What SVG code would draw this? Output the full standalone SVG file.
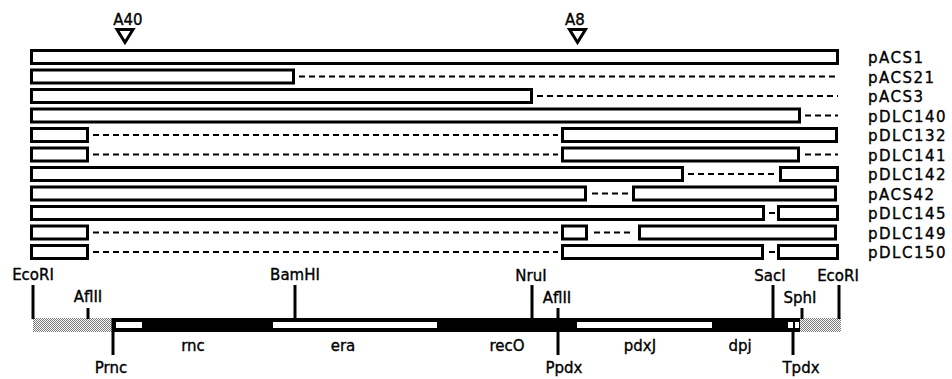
<svg xmlns="http://www.w3.org/2000/svg" width="952" height="379" viewBox="0 0 952 379">
<defs>
<style>
.bar{fill:#fff;stroke:#000;stroke-width:3}
.dash{stroke:#000;stroke-width:2;stroke-dasharray:6 4;fill:none}
.tick{stroke:#000;stroke-width:3;fill:none}
.tri{fill:#fff;stroke:#000;stroke-width:3;stroke-linejoin:miter}
text{font-family:"DejaVu Sans","Liberation Sans",sans-serif;font-size:15px;fill:#000;stroke:#000;stroke-width:0.35}
.lbl{letter-spacing:1.5px}
.mid{text-anchor:middle}
.ins{fill:#fff}
</style>
<pattern id="stip" width="2" height="2" patternUnits="userSpaceOnUse">
<rect width="2" height="2" fill="#fff"/>
<rect x="0" y="0" width="1" height="1" fill="#777"/>
<rect x="1" y="1" width="1" height="1" fill="#777"/>
</pattern>
</defs>
<rect width="952" height="379" fill="#fff"/>

<g id="insertions">
<text class="mid" x="128" y="25">A40</text>
<polygon class="tri" points="117,29.5 133,29.5 125,42.5"/>
<text class="mid" x="575" y="25">A8</text>
<polygon class="tri" points="569.5,29.5 585.5,29.5 577.5,42.5"/>
</g>

<g id="pACS1">
<rect class="bar" x="31.5" y="50.5" width="806" height="13"/>
<text class="lbl" x="868" y="63">pACS1</text>
</g>
<g id="pACS21">
<rect class="bar" x="31.5" y="70" width="262" height="13"/>
<line class="dash" x1="299" y1="76.5" x2="838" y2="76.5"/>
<text class="lbl" x="868" y="82.5">pACS21</text>
</g>
<g id="pACS3">
<rect class="bar" x="31.5" y="89.5" width="500" height="13"/>
<line class="dash" x1="537" y1="96" x2="838" y2="96"/>
<text class="lbl" x="868" y="102">pACS3</text>
</g>
<g id="pDLC140">
<rect class="bar" x="31.5" y="109" width="768" height="13"/>
<line class="dash" x1="805" y1="115.5" x2="838" y2="115.5"/>
<text class="lbl" x="868" y="121.5">pDLC140</text>
</g>
<g id="pDLC132">
<rect class="bar" x="31.5" y="128.5" width="56" height="13"/>
<line class="dash" x1="93" y1="135" x2="558" y2="135"/>
<rect class="bar" x="562.5" y="128.5" width="274" height="13"/>
<text class="lbl" x="868" y="141">pDLC132</text>
</g>
<g id="pDLC141">
<rect class="bar" x="31.5" y="148" width="56" height="13"/>
<line class="dash" x1="93" y1="154.5" x2="558" y2="154.5"/>
<rect class="bar" x="562.5" y="148" width="236" height="13"/>
<line class="dash" x1="805" y1="154.5" x2="838" y2="154.5"/>
<text class="lbl" x="868" y="160.5">pDLC141</text>
</g>
<g id="pDLC142">
<rect class="bar" x="31.5" y="167.5" width="651" height="13"/>
<line class="dash" x1="688" y1="174" x2="777" y2="174"/>
<rect class="bar" x="780.5" y="167.5" width="57" height="13"/>
<text class="lbl" x="868" y="180">pDLC142</text>
</g>
<g id="pACS42">
<rect class="bar" x="31.5" y="187" width="554" height="13"/>
<line class="dash" x1="592" y1="193.5" x2="630" y2="193.5"/>
<rect class="bar" x="633.5" y="187" width="202" height="13"/>
<text class="lbl" x="868" y="199.5">pACS42</text>
</g>
<g id="pDLC145">
<rect class="bar" x="31.5" y="206.5" width="732" height="13"/>
<line class="dash" x1="769" y1="213" x2="775" y2="213"/>
<rect class="bar" x="778.5" y="206.5" width="59" height="13"/>
<text class="lbl" x="868" y="219">pDLC145</text>
</g>
<g id="pDLC149">
<rect class="bar" x="31.5" y="226" width="56" height="13"/>
<line class="dash" x1="93" y1="232.5" x2="558" y2="232.5"/>
<rect class="bar" x="562.5" y="226" width="24" height="13"/>
<line class="dash" x1="594" y1="232.5" x2="632" y2="232.5"/>
<rect class="bar" x="639.5" y="226" width="196" height="13"/>
<text class="lbl" x="868" y="238.5">pDLC149</text>
</g>
<g id="pDLC150">
<rect class="bar" x="31.5" y="245.5" width="56" height="13"/>
<line class="dash" x1="93" y1="252" x2="558" y2="252"/>
<rect class="bar" x="562.5" y="245.5" width="200" height="13"/>
<line class="dash" x1="769" y1="252" x2="775" y2="252"/>
<rect class="bar" x="778.5" y="245.5" width="59" height="13"/>
<text class="lbl" x="868" y="258">pDLC150</text>
</g>

<g id="map">
<rect x="33" y="318" width="80" height="14" fill="url(#stip)"/>
<rect x="800" y="318" width="41" height="14" fill="url(#stip)"/>
<rect x="112" y="318" width="688" height="14" fill="#000"/>
<rect class="ins" x="116" y="322" width="26" height="6"/>
<rect class="ins" x="273" y="322" width="164" height="6"/>
<rect class="ins" x="577" y="322" width="135" height="6"/>
<rect class="ins" x="788" y="322" width="5" height="6"/>
<rect class="ins" x="795" y="322" width="4" height="6"/>
<text class="mid" x="193" y="351">rnc</text>
<text class="mid" x="343" y="351">era</text>
<text class="mid" x="507" y="351">recO</text>
<text class="mid" x="640" y="351">pdxJ</text>
<text class="mid" x="740" y="351">dpj</text>
</g>

<g id="connectors">
<line class="tick" x1="33" y1="285" x2="33" y2="319"/>
<line class="tick" x1="88" y1="308" x2="88" y2="319"/>
<line class="tick" x1="295" y1="285" x2="295" y2="319"/>
<line class="tick" x1="532" y1="285" x2="532" y2="319"/>
<line class="tick" x1="558" y1="308" x2="558" y2="355"/>
<line class="tick" x1="773" y1="285" x2="773" y2="319"/>
<line class="tick" x1="802" y1="308" x2="802" y2="319"/>
<line class="tick" x1="839" y1="285" x2="839" y2="319"/>
<line class="tick" x1="113" y1="318" x2="113" y2="355"/>
<line class="tick" x1="793" y1="331" x2="793" y2="355"/>
</g>

<g id="site-labels">
<text class="mid" x="33" y="280">EcoRI</text>
<text class="mid" x="88" y="302">AflII</text>
<text class="mid" x="295" y="280">BamHI</text>
<text class="mid" x="531" y="281">NruI</text>
<text class="mid" x="557" y="303">AflII</text>
<text class="mid" x="770" y="281">SacI</text>
<text class="mid" x="838" y="281">EcoRI</text>
<text class="mid" x="800" y="303">SphI</text>
<text class="mid" x="111" y="373">Prnc</text>
<text class="mid" x="564" y="373">Ppdx</text>
<text class="mid" x="801" y="373">Tpdx</text>
</g>
</svg>
